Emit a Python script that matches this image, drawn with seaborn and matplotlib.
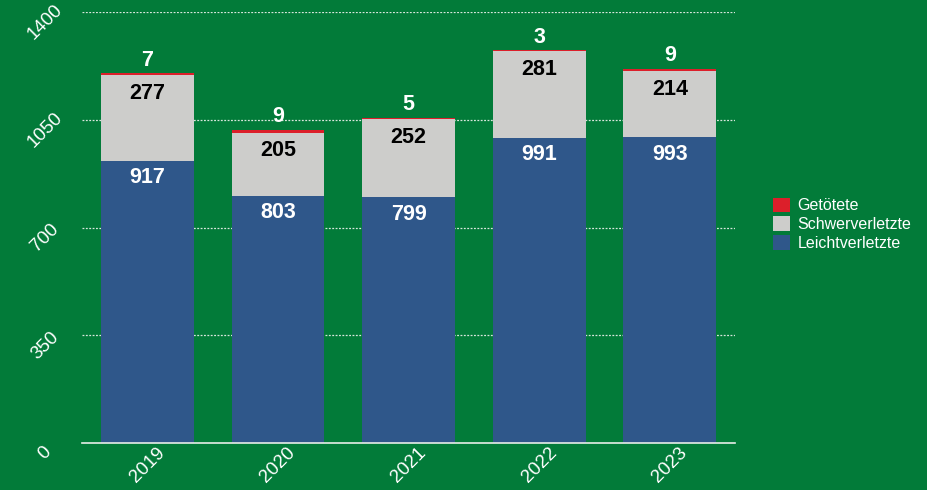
import matplotlib
matplotlib.use("Agg")
import matplotlib.pyplot as plt
import matplotlib.transforms as mtransforms
import seaborn as sns
import pandas as pd
from matplotlib.patches import Patch

years = ["2019", "2020", "2021", "2022", "2023"]
leicht = [917, 803, 799, 991, 993]
schwer = [277, 205, 252, 281, 214]
getoetet = [7, 9, 5, 3, 9]
y_ticks = [0, 350, 700, 1050, 1400]

BG = "#027B39"
BLUE = "#2F578A"
GRAY = "#CDCDCB"
RED = "#DC1F2A"

sns.set_theme(style="white")
plt.rcParams["font.family"] = ["Liberation Sans", "DejaVu Sans"]

df = pd.DataFrame({"Jahr": years, "Leicht": leicht, "Schwer": schwer, "Tot": getoetet})
df["LS"] = df["Leicht"] + df["Schwer"]
df["Summe"] = df["LS"] + df["Tot"]

fig = plt.figure(figsize=(9.27, 4.90), dpi=100, facecolor=BG)
ax = fig.add_axes([0.0885, 0.0959, 0.7045, 0.8796])
ax.set_facecolor(BG)

# stacked bars drawn as overlapping cumulative totals
sns.barplot(data=df, x="Jahr", y="Summe", color=RED, width=0.71, saturation=1,
            ax=ax, zorder=2, linewidth=0)
sns.barplot(data=df, x="Jahr", y="LS", color=GRAY, width=0.71, saturation=1,
            ax=ax, zorder=3, linewidth=0)
sns.barplot(data=df, x="Jahr", y="Leicht", color=BLUE, width=0.71, saturation=1,
            ax=ax, zorder=4, linewidth=0)

ax.set_ylim(0, 1400)
ax.set_xlim(-0.5, len(years) - 0.5)
ax.set_yticks(y_ticks)
ax.set_yticklabels([str(t) for t in y_ticks])
ax.set_xlabel("")
ax.set_ylabel("")

for y in y_ticks[1:]:
    ax.axhline(y, color="#D8E6DC", lw=0.9, ls=(0, (1.5, 1.2)), zorder=1)

for s in ["top", "right", "left"]:
    ax.spines[s].set_visible(False)
ax.spines["bottom"].set_color("#E8EEE9")
ax.spines["bottom"].set_linewidth(1.2)
ax.spines["bottom"].set_zorder(5)

ax.tick_params(axis="both", length=0, colors="white", labelsize=13.5)
ax.tick_params(axis="y", pad=31)
ax.tick_params(axis="x", pad=16)
shift_down = mtransforms.ScaledTranslation(0, -3 / 72, fig.dpi_scale_trans)
for lbl in ax.get_yticklabels():
    lbl.set_rotation(45)
    lbl.set_rotation_mode("anchor")
    lbl.set_ha("center")
    lbl.set_va("top")
    lbl.set_transform(lbl.get_transform() + shift_down)
for lbl in ax.get_xticklabels():
    lbl.set_rotation(45)
    lbl.set_rotation_mode("anchor")
    lbl.set_ha("center")
    lbl.set_va("center")

px = 1400 / (0.8796 * 490)  # data units per pixel
for i, row in df.iterrows():
    ax.text(i, row["Leicht"] - 17 * px, str(row["Leicht"]), ha="center", va="center",
            color="white", fontsize=15.5, fontweight="bold", zorder=6)
    ax.text(i, row["LS"] - 18 * px, str(row["Schwer"]), ha="center", va="center",
            color="black", fontsize=15.5, fontweight="bold", zorder=6)
    ax.text(i, row["Summe"] + 13 * px, str(row["Tot"]), ha="center", va="center",
            color="white", fontsize=15.5, fontweight="bold", zorder=6)

handles = [Patch(facecolor=RED, edgecolor="none", label="Getötete"),
           Patch(facecolor=GRAY, edgecolor="none", label="Schwerverletzte"),
           Patch(facecolor=BLUE, edgecolor="none", label="Leichtverletzte")]
fig.legend(handles=handles, loc="upper left", bbox_to_anchor=(0.825, 0.613),
           frameon=False, fontsize=11.5, labelcolor="white", handlelength=1.05,
           handleheight=1.05, handletextpad=0.5, labelspacing=0.18, borderpad=0)

fig.savefig("out.png", dpi=100, facecolor=BG)
